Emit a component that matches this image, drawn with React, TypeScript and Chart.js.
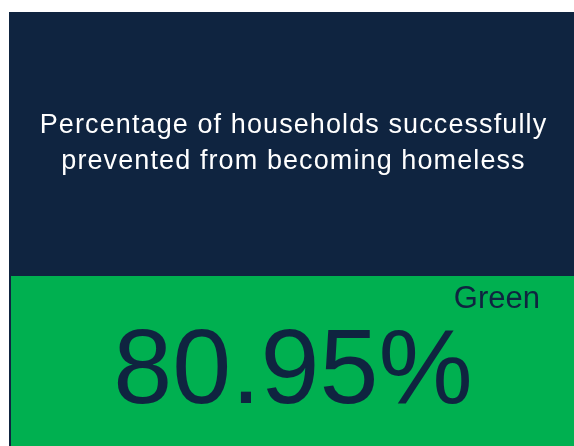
import React, { useEffect, useRef } from "react";
import { Chart, registerables } from "chart.js";

Chart.register(...registerables);

// ---- data ----
const titleLines: string[] = ["Percentage of households successfully", "prevented from becoming homeless"];
const kpiValues: number[] = [80.95];
const kpiStatus: string[] = ["Green"];

const NAVY = "#0F2440";
const GREEN = "#00B050";
const FONT = "'Liberation Sans', Arial, sans-serif";

const cardPlugin = {
  id: "kpiCard",
  beforeDraw(chart: any) {
    const { ctx, width, height } = chart;
    ctx.save();
    ctx.fillStyle = NAVY;
    ctx.fillRect(9, 12, width - 9, height - 12);
    ctx.fillStyle = GREEN;
    ctx.fillRect(11, 276, width - 11, height - 276);
    ctx.restore();
  },
  afterDraw(chart: any) {
    const { ctx } = chart;
    const cx = 293;
    ctx.save();
    ctx.fillStyle = "#FFFFFF";
    ctx.textAlign = "center";
    ctx.textBaseline = "alphabetic";
    ctx.font = `27px ${FONT}`;
    (ctx as any).letterSpacing = "1.1px";
    titleLines.forEach((line, i) => ctx.fillText(line, cx + 0.5, 133 + i * 36));

    ctx.fillStyle = NAVY;
    (ctx as any).letterSpacing = "0px";
    ctx.font = `31px ${FONT}`;
    ctx.textAlign = "right";
    ctx.fillText(kpiStatus[0], 540, 308);

    ctx.font = `106px ${FONT}`;
    ctx.textAlign = "center";
    ctx.fillText(kpiValues[0].toFixed(2) + "%", cx, 403);
    ctx.restore();
  },
};

export default function App() {
  const ref = useRef<HTMLCanvasElement | null>(null);
  useEffect(() => {
    if (!ref.current) return;
    const chart = new Chart(ref.current, {
      type: "bar",
      data: {
        labels: [""],
        datasets: [{ data: kpiValues, backgroundColor: "rgba(0,0,0,0)", borderWidth: 0 }],
      },
      options: {
        animation: false,
        responsive: false,
        events: [],
        layout: { padding: 0 },
        plugins: { legend: { display: false }, tooltip: { enabled: false }, title: { display: false } },
        scales: { x: { display: false }, y: { display: false, min: 0, max: 100 } },
      },
      plugins: [cardPlugin],
    });
    return () => chart.destroy();
  }, []);
  return (
    <div style={{ position: "absolute", left: 0, top: 0, width: 574, height: 446 }}>
      <canvas ref={ref} width={574} height={446} style={{ display: "block" }} />
    </div>
  );
}
